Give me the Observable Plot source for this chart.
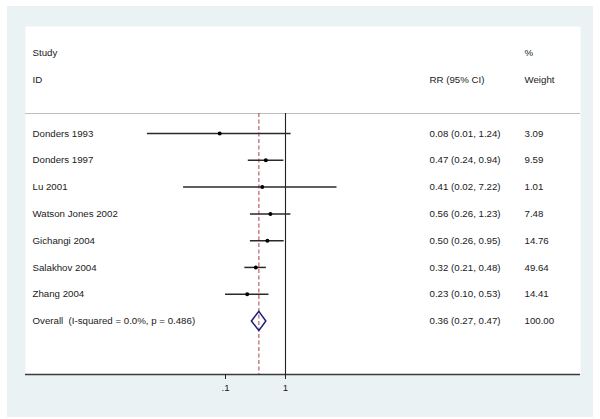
<!DOCTYPE html>
<html>
<head>
<meta charset="utf-8">
<script src="https://cdn.jsdelivr.net/npm/d3@7"></script>
<script src="https://cdn.jsdelivr.net/npm/@observablehq/plot@0.6"></script>
<style>
  html, body { margin: 0; padding: 0; background: #ffffff; }
  #wrap { position: relative; width: 600px; height: 419px; background: #ffffff; overflow: hidden; }
  #bg { position: absolute; left: 7px; top: 6px; width: 586px; height: 411px; background: #eaf2f4; }
  #chart { position: absolute; left: 0; top: 0; }
  #chart svg { background: transparent; }
</style>
</head>
<body>
<div id="wrap"><div id="bg"></div><div id="chart"></div></div>
<script>
const studies = ["Donders 1993", "Donders 1997", "Lu 2001", "Watson Jones 2002", "Gichangi 2004", "Salakhov 2004", "Zhang 2004"];
const rr = [0.08, 0.47, 0.41, 0.56, 0.50, 0.32, 0.23];
const lo = [0.005, 0.24, 0.02, 0.26, 0.26, 0.21, 0.10];
const hi = [1.24, 0.94, 7.22, 1.23, 0.95, 0.48, 0.53];
const ciLabels = ["0.08 (0.01, 1.24)", "0.47 (0.24, 0.94)", "0.41 (0.02, 7.22)", "0.56 (0.26, 1.23)", "0.50 (0.26, 0.95)", "0.32 (0.21, 0.48)", "0.23 (0.10, 0.53)"];
const weights = ["3.09", "9.59", "1.01", "7.48", "14.76", "49.64", "14.41"];
const overallLabel = "Overall  (I-squared = 0.0%, p = 0.486)";
const overall = {rr: 0.36, lo: 0.27, hi: 0.47, ci: "0.36 (0.27, 0.47)", weight: "100.00"};
const headerLeft = ["Study", "ID"];
const headerCI = "RR (95% CI)";
const headerWeight = ["%", "Weight"];
const tickValues = [0.1, 1];
const tickLabels = [".1", "1"];

const rows = studies.map((s, i) => ({study: s, row: i, rr: rr[i], lo: lo[i], hi: hi[i], ci: ciLabels[i], w: weights[i]}));
const oRow = studies.length;
const allRows = rows.concat([{study: overallLabel, row: oRow, ci: overall.ci, w: overall.weight}]);
const diamond = [
  {x: overall.lo, y: oRow},
  {x: overall.rr, y: oRow - 0.36},
  {x: overall.hi, y: oRow},
  {x: overall.rr, y: oRow + 0.36},
  {x: overall.lo, y: oRow}
];

const font = "'Liberation Sans', Arial, Helvetica, sans-serif";
const txt = "#1a1a1a";
const sepY = -0.75;
const botY = 9;

const plot = Plot.plot({
  width: 600,
  height: 419,
  marginLeft: 25,
  marginRight: 20,
  marginTop: 26,
  marginBottom: 45,
  style: {fontFamily: font, fontSize: "9.7px", background: "transparent", color: txt},
  x: {type: "log", domain: [Math.pow(10, -4.3333), Math.pow(10, 4.9167)], axis: null},
  y: {type: "linear", domain: [-4, botY], reverse: true, axis: null},
  marks: [
    Plot.frame({fill: "#ffffff", stroke: "none"}),
    Plot.ruleY([sepY], {stroke: "#bdbdbd", strokeWidth: 1.2}),
    Plot.ruleX([1], {y1: sepY, y2: botY, stroke: "#222", strokeWidth: 1.1}),
    Plot.ruleX([overall.rr], {y1: sepY, y2: botY, stroke: "#b2545e", strokeWidth: 1.1, strokeDasharray: "4,2.5"}),
    Plot.ruleY(rows, {y: "row", x1: "lo", x2: "hi", stroke: "#2a2a2a", strokeWidth: 1.5}),
    Plot.dot(rows, {x: "rr", y: "row", r: 2, fill: "#000", stroke: "none"}),
    Plot.line(diamond, {x: "x", y: "y", stroke: "#1c1f7c", strokeWidth: 1.5, fill: "none"}),
    Plot.ruleY([botY], {stroke: "#3a3a3a", strokeWidth: 1.5}),
    Plot.axisX({ticks: tickValues, tickFormat: (d) => tickLabels[tickValues.indexOf(d)], tickSize: 5, tickPadding: 5, anchor: "bottom", fontSize: 9.7, stroke: "#222", color: txt}),
    Plot.text(allRows, {y: "row", text: "study", frameAnchor: "left", dx: 7, textAnchor: "start", fill: txt}),
    Plot.text(allRows, {y: "row", text: "ci", frameAnchor: "left", dx: 404, textAnchor: "start", fill: txt}),
    Plot.text(allRows, {y: "row", text: "w", frameAnchor: "left", dx: 499, textAnchor: "start", fill: txt}),
    Plot.text(headerLeft, {y: (d, i) => i - 3, text: d => d, frameAnchor: "left", dx: 7, textAnchor: "start", fill: txt}),
    Plot.text([headerCI], {y: -2, text: d => d, frameAnchor: "left", dx: 404, textAnchor: "start", fill: txt}),
    Plot.text(headerWeight, {y: (d, i) => i - 3, text: d => d, frameAnchor: "left", dx: 499, textAnchor: "start", fill: txt})
  ]
});
document.getElementById("chart").appendChild(plot);
</script>
</body>
</html>
